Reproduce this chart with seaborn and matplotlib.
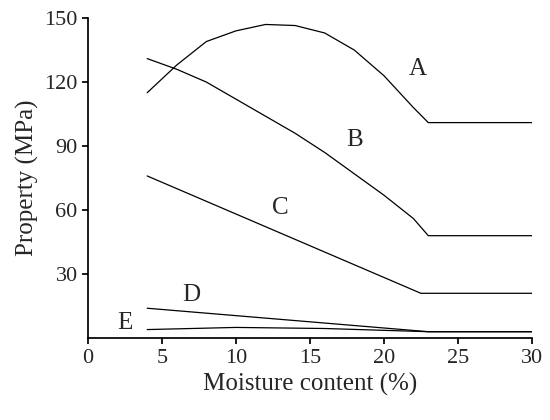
import matplotlib
matplotlib.use("Agg")
import matplotlib.pyplot as plt
import seaborn as sns
import pandas as pd

sns.set_theme(style="ticks")
plt.rcParams['font.family'] = ['Liberation Serif', 'DejaVu Serif']

mc_A = [4, 6, 8, 10, 12, 14, 16, 18, 20, 22, 23, 30]
A = [115, 128, 139, 144, 147, 146.5, 143, 135, 123, 108, 101, 101]
mc_B = [4, 6, 8, 10, 12, 14, 16, 18, 20, 22, 23, 30]
B = [131, 126, 120, 112, 104, 96, 87, 77, 67, 56, 48, 48]
mc_C = [4, 22.5, 30]
C = [76, 21, 21]
mc_D = [4, 23, 30]
D = [14, 3, 3]
mc_E = [4, 10, 16, 23, 30]
E = [4, 5, 4.5, 3, 3]

series = {"A": (mc_A, A), "B": (mc_B, B), "C": (mc_C, C), "D": (mc_D, D), "E": (mc_E, E)}
labels = {"A": (22.3, 126), "B": (18, 93), "C": (13, 61), "D": (7, 20), "E": (2.5, 7)}

fig, ax = plt.subplots(figsize=(5.5, 4.2), dpi=100)
for k, (x, y) in series.items():
    sns.lineplot(x=x, y=y, ax=ax, color="black", lw=0.9)
    ax.text(*labels[k], k, fontsize=18, ha="center", va="center")

ax.set_xlim(0, 30)
ax.set_ylim(0, 150)
ax.set_xticks([0, 5, 10, 15, 20, 25, 30])
ax.set_yticks([30, 60, 90, 120, 150])
ax.tick_params(labelsize=16, direction="out", length=4, color="black")
ax.set_xlabel("Moisture content (%)", fontsize=18)
ax.set_ylabel("Property (MPa)", fontsize=18)
for s in ["left", "bottom"]:
    ax.spines[s].set_color("black")
sns.despine(ax=ax)
fig.subplots_adjust(left=0.16, right=0.967, top=0.957, bottom=0.195)
fig.savefig("out.png", dpi=100)
